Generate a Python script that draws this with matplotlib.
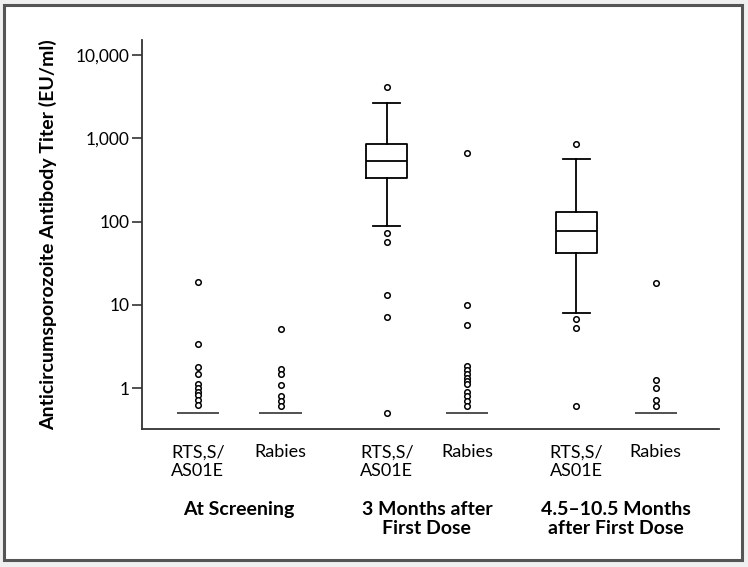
import matplotlib
matplotlib.use("Agg")
import matplotlib.pyplot as plt
from matplotlib.patches import Rectangle
from matplotlib.ticker import FixedLocator, NullLocator

plt.rcParams['font.family'] = ['Lato', 'DejaVu Sans']

# labels
groep_etykiety = ['RTS,S/\nAS01E', 'Rabies', 'RTS,S/\nAS01E', 'Rabies', 'RTS,S/\nAS01E', 'Rabies']
okresy = ['At Screening', '3 Months after\nFirst Dose', '4.5\u201310.5 Months\nafter First Dose']

# box statistics (EU/ml)
q1 = [0.5, 0.5, 330, 0.5, 42, 0.5]
mediana = [0.5, 0.5, 535, 0.5, 77, 0.5]
q3 = [0.5, 0.5, 845, 0.5, 131, 0.5]
wasy_dol = [0.5, 0.5, 89, 0.5, 8.1, 0.5]
wasy_gora = [0.5, 0.5, 2650, 0.5, 565, 0.5]
odstajace = [
    [19, 3.4, 1.8, 1.5, 1.12, 1.02, 0.91, 0.82, 0.72, 0.63],
    [5.2, 1.7, 1.47, 1.09, 0.8, 0.7, 0.61],
    [4100, 73, 57, 13, 7.2, 0.5],
    [660, 10, 5.7, 1.87, 1.68, 1.5, 1.34, 1.24, 1.12, 0.91, 0.8, 0.7, 0.62],
    [850, 6.7, 5.35, 0.62],
    [18.6, 1.25, 1.02, 0.72, 0.62],
]

pozycje = [1, 2.02, 3.33, 4.32, 5.67, 6.65]

fig = plt.figure(figsize=(7.48, 5.67), dpi=100, facecolor='#f0f0f0')
fig.patches.append(Rectangle((4 / 748, 1 - 560 / 567), 738 / 748, 555 / 567,
                             transform=fig.transFigure, facecolor='white',
                             edgecolor='#555555', linewidth=2.2, zorder=-1))

ax = fig.add_axes([142 / 748, 1 - 429 / 567, (719 - 142) / 748, (429 - 40) / 567])
ax.set_facecolor('none')

statystyki = []
for i in range(len(pozycje)):
    statystyki.append({'q1': q1[i], 'med': mediana[i], 'q3': q3[i],
                       'whislo': wasy_dol[i], 'whishi': wasy_gora[i],
                       'fliers': odstajace[i]})

pudelka = [i for i in range(len(pozycje)) if q3[i] > q1[i]]
plaskie = [i for i in range(len(pozycje)) if q3[i] <= q1[i]]

flier = dict(marker='o', markersize=4, markerfacecolor='white',
             markeredgecolor='black', markeredgewidth=1.1, linestyle='none')

ax.bxp([statystyki[i] for i in pudelka], positions=[pozycje[i] for i in pudelka],
       widths=0.5, capwidths=0.33, showfliers=True,
       boxprops=dict(color='black', linewidth=1.3),
       medianprops=dict(color='black', linewidth=1.3),
       whiskerprops=dict(color='black', linewidth=1.3),
       capprops=dict(color='black', linewidth=1.3),
       flierprops=flier, manage_ticks=False)

ax.bxp([statystyki[i] for i in plaskie], positions=[pozycje[i] for i in plaskie],
       widths=0.5, showcaps=False, showfliers=True,
       boxprops=dict(color='#555555', linewidth=1.2),
       medianprops=dict(color='#555555', linewidth=1.2),
       whiskerprops=dict(color='#555555', linewidth=1.2),
       flierprops=flier, manage_ticks=False)

ax.set_yscale('log')
ax.set_ylim(0.325, 15100)
ax.set_xlim(0.31, 7.43)
ax.yaxis.set_major_locator(FixedLocator([1, 10, 100, 1000, 10000]))
ax.yaxis.set_minor_locator(NullLocator())
ax.set_yticklabels(['1', '10', '100', '1,000', '10,000'], fontsize=12.5)
ax.tick_params(axis='y', length=7, width=1.2, color='#333333', pad=2)

ax.set_xticks(pozycje)
ax.set_xticklabels(groep_etykiety, fontsize=13, linespacing=1.2)
ax.tick_params(axis='x', length=0, pad=11)

for s in ['top', 'right']:
    ax.spines[s].set_visible(False)
for s in ['left', 'bottom']:
    ax.spines[s].set_color('#333333')
    ax.spines[s].set_linewidth(1.3)

ax.set_ylabel('Anticircumsporozoite Antibody Titer (EU/ml)', fontsize=14,
              fontweight='bold', labelpad=13)

# period labels under the pairs
for j, tekst in enumerate(okresy):
    xs = (pozycje[2 * j] + pozycje[2 * j + 1]) / 2
    xf = fig.transFigure.inverted().transform(ax.transData.transform((xs, 1)))[0]
    fig.text(xf, 1 - 501 / 567, tekst, ha='center', va='top', fontsize=14,
             fontweight='bold', linespacing=1.15)

fig.savefig('out.png', dpi=100, facecolor=fig.get_facecolor())
